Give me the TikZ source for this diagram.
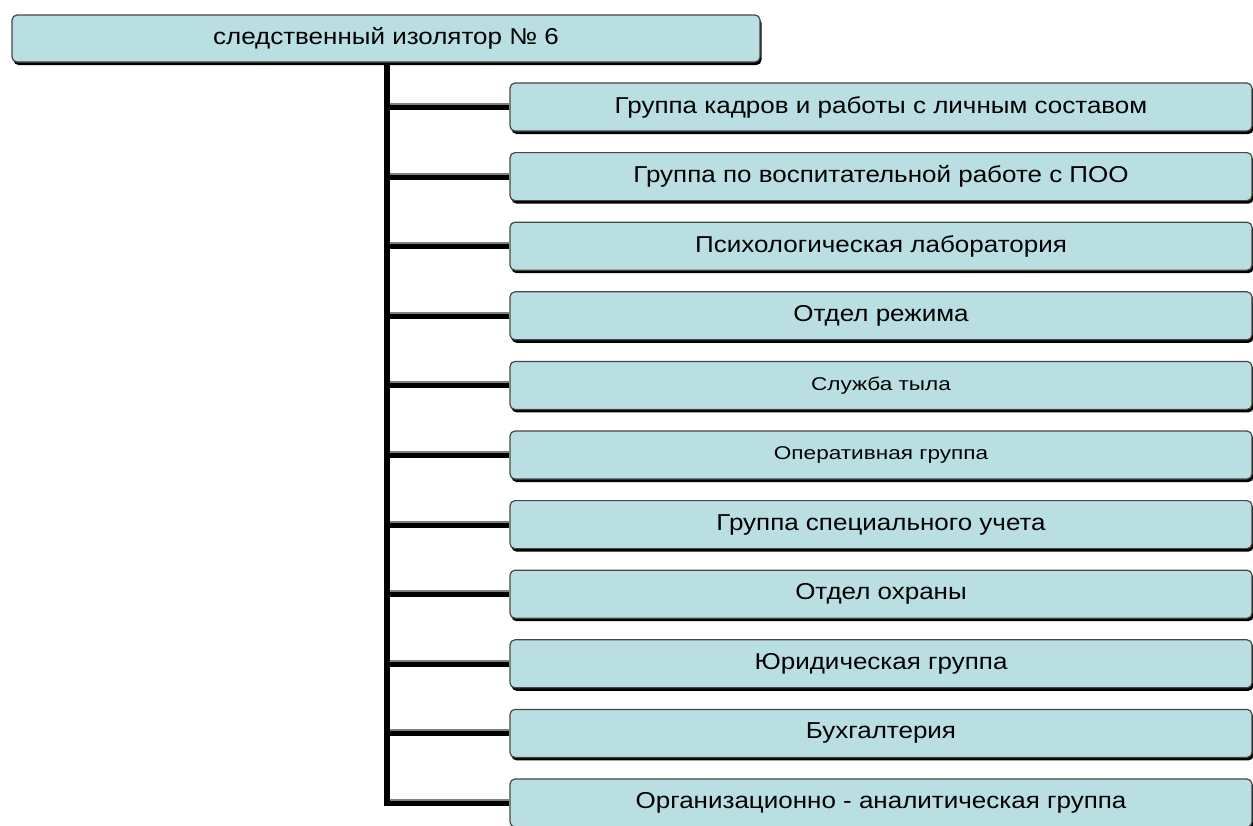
\documentclass[tikz,border=0pt]{standalone}
\usepackage{fontspec}
\setmainfont{Liberation Sans}
\newfontfamily\boxfont[FakeStretch=1.13]{Liberation Sans}
\newfontfamily\smallboxfont[FakeStretch=1.22]{Liberation Sans}
\usetikzlibrary{shadows}
\definecolor{boxfill}{RGB}{185,223,227}
\definecolor{boxedge}{RGB}{70,70,70}
\tikzset{
  unitbox/.style={draw=boxedge, line width=1.2pt, fill=boxfill, rounded corners=5pt,
    inner sep=0pt, font=\boxfont\fontsize{23}{25}\selectfont,
    drop shadow={shadow xshift=1.5pt, shadow yshift=-3pt, fill=black, opacity=1}},
  topbox/.style={unitbox, minimum width=748pt, minimum height=47pt},
  subbox/.style={unitbox, minimum width=742pt, minimum height=48pt},
  smalltext/.style={font=\smallboxfont\fontsize{18.5}{20}\selectfont},
  spineline/.style={line width=6pt, black, line join=miter},
  connline/.style={line width=6pt, black},
  hiline/.style={line width=2pt, gray},
}
\begin{document}
\begin{tikzpicture}[x=1pt,y=-1pt]
\useasboundingbox (0,0) rectangle (1253,825);
\clip (0,0) rectangle (1253,825);
\node[topbox] (top) at (386,38.5) {следственный изолятор № 6};
\coordinate (spine) at (386.5,0);
\node[subbox] (c1)  at (881,107.0) {Группа кадров и работы с личным составом};
\node[subbox] (c2)  at (881,176.6) {Группа по воспитательной работе с ПОО};
\node[subbox] (c3)  at (881,246.2) {Психологическая лаборатория};
\node[subbox] (c4)  at (881,315.8) {Отдел режима};
\node[subbox, smalltext] (c5)  at (881,385.4) {Служба тыла};
\node[subbox, smalltext] (c6)  at (881,455.0) {Оперативная группа};
\node[subbox] (c7)  at (881,524.6) {Группа специального учета};
\node[subbox] (c8)  at (881,594.2) {Отдел охраны};
\node[subbox] (c9)  at (881,663.8) {Юридическая группа};
\node[subbox] (c10) at (881,733.4) {Бухгалтерия};
\node[subbox] (c11) at (881,803.0) {Организационно - аналитическая группа};
\draw[spineline] (spine |- top.south) |- (c11.west);
\foreach \i in {1,...,10} {
  \draw[connline] (spine |- c\i.west) -- (c\i.west);
}
\foreach \i in {1,...,11} {
  \draw[hiline] ([xshift=3.5pt,yshift=3pt]spine |- c\i.west) -- ([yshift=3pt]c\i.west);
}
\end{tikzpicture}
\end{document}
